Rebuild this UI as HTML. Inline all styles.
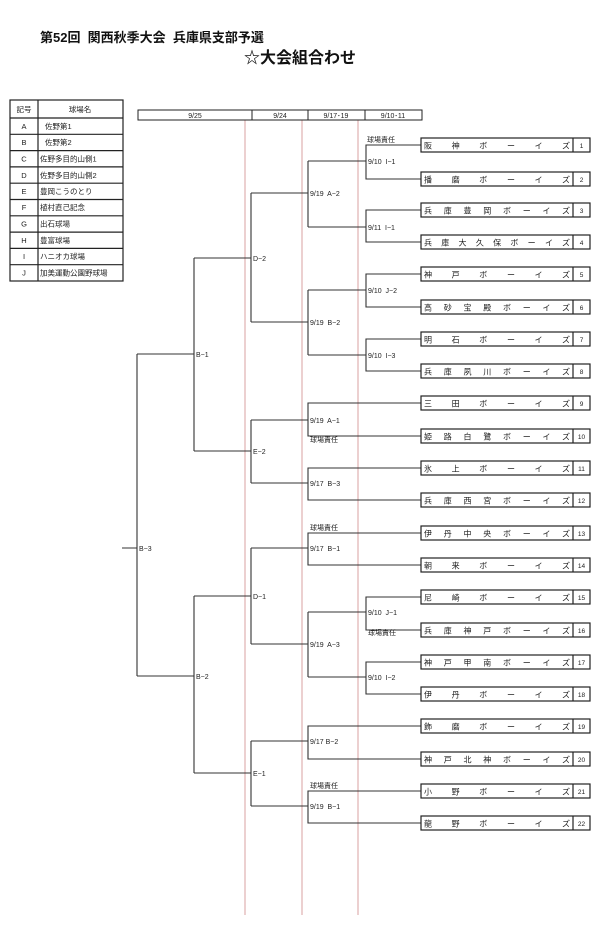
<!DOCTYPE html>
<html><head><meta charset="utf-8"><style>
html,body{margin:0;padding:0;background:#fff;}
svg{display:block;font-family:"Liberation Sans","Noto Sans CJK JP",sans-serif;}
text{white-space:pre;}
</style></head><body>
<svg width="600" height="928" viewBox="0 0 600 928" xmlns="http://www.w3.org/2000/svg" xml:space="preserve">
<rect width="600" height="928" fill="#fff"/>
<text x="40" y="42" font-size="13" font-weight="bold" fill="#111">第52回  関西秋季大会  兵庫県支部予選</text>
<text x="300" y="63" font-size="16" font-weight="bold" fill="#111" text-anchor="middle">☆大会組合わせ</text>

<g stroke="#222" stroke-width="1.2" fill="none">
<rect x="10" y="100" width="113" height="181"/>
<line x1="38" y1="100" x2="38" y2="281"/>
<line x1="10" y1="118" x2="123" y2="118"/>
<line x1="10" y1="134.3" x2="123" y2="134.3"/>
<line x1="10" y1="150.6" x2="123" y2="150.6"/>
<line x1="10" y1="166.9" x2="123" y2="166.9"/>
<line x1="10" y1="183.2" x2="123" y2="183.2"/>
<line x1="10" y1="199.5" x2="123" y2="199.5"/>
<line x1="10" y1="215.8" x2="123" y2="215.8"/>
<line x1="10" y1="232.1" x2="123" y2="232.1"/>
<line x1="10" y1="248.4" x2="123" y2="248.4"/>
<line x1="10" y1="264.7" x2="123" y2="264.7"/>
</g>
<g font-size="7.5" fill="#222">
<text x="24" y="112" text-anchor="middle">記号</text><text x="80" y="112" text-anchor="middle">球場名</text>
<text x="24" y="129" text-anchor="middle">A</text><text x="45" y="129">佐野第1</text>
<text x="24" y="145" text-anchor="middle">B</text><text x="45" y="145">佐野第2</text>
<text x="24" y="161.5" text-anchor="middle">C</text><text x="40" y="161.5">佐野多目的山側1</text>
<text x="24" y="178" text-anchor="middle">D</text><text x="40" y="178">佐野多目的山側2</text>
<text x="24" y="194" text-anchor="middle">E</text><text x="40" y="194">豊岡こうのとり</text>
<text x="24" y="210" text-anchor="middle">F</text><text x="40" y="210">植村直己記念</text>
<text x="24" y="226.5" text-anchor="middle">G</text><text x="40" y="226.5">出石球場</text>
<text x="24" y="243" text-anchor="middle">H</text><text x="40" y="243">豊富球場</text>
<text x="24" y="259" text-anchor="middle">I</text><text x="40" y="259">ハニオカ球場</text>
<text x="24" y="275.5" text-anchor="middle">J</text><text x="40" y="275.5">加美運動公園野球場</text>
</g>

<g stroke="#d9a0a0" stroke-width="1">
<line x1="245" y1="110" x2="245" y2="915"/>
<line x1="302" y1="110" x2="302" y2="915"/>
<line x1="358" y1="110" x2="358" y2="915"/>
</g>
<g stroke="#222" stroke-width="1" fill="#fff">
<rect x="138" y="110" width="284" height="10"/>
<line x1="252" y1="110" x2="252" y2="120"/>
<line x1="308" y1="110" x2="308" y2="120"/>
<line x1="365" y1="110" x2="365" y2="120"/>
</g>
<g font-size="7" fill="#222" text-anchor="middle">
<text x="195" y="118">9/25</text><text x="280" y="118">9/24</text><text x="336" y="118">9/17･19</text><text x="393" y="118">9/10･11</text>
</g>

<g stroke="#333" stroke-width="1.1" fill="none">
<path d="M421 145H366V179H421 M366 161H308"/>
<path d="M421 210H366V242H421 M366 227H308"/>
<path d="M421 274H366V307H421 M366 290H308"/>
<path d="M421 339H366V371H421 M366 355H308"/>
<path d="M421 597H366V630H421 M366 612H308"/>
<path d="M421 662H366V694H421 M366 677H308"/>
<path d="M308 161V227 M308 193H251"/>
<path d="M308 290V355 M308 322H251"/>
<path d="M421 403H308V436H421 M308 420H251"/>
<path d="M421 468H308V500H421 M308 483H251"/>
<path d="M421 533H308V565H421 M308 548H251"/>
<path d="M308 612V677 M308 644H251"/>
<path d="M421 726H308V759H421 M308 741H251"/>
<path d="M421 791H308V823H421 M308 806H251"/>
<path d="M251 193V322 M251 258H194"/>
<path d="M251 420V483 M251 451H194"/>
<path d="M251 548V644 M251 596H194"/>
<path d="M251 741V806 M251 773H194"/>
<path d="M194 258V451 M194 354H137"/>
<path d="M194 596V773 M194 676H137"/>
<path d="M137 354V676 M137 548H122"/>
</g>

<g font-size="7" fill="#222">
<text x="368" y="164">9/10  I−1</text>
<text x="368" y="230">9/11  I−1</text>
<text x="368" y="293">9/10  J−2</text>
<text x="368" y="358">9/10  I−3</text>
<text x="368" y="615">9/10  J−1</text>
<text x="368" y="680">9/10  I−2</text>
<text x="310" y="196">9/19  A−2</text>
<text x="310" y="325">9/19  B−2</text>
<text x="310" y="423">9/19  A−1</text>
<text x="310" y="486">9/17  B−3</text>
<text x="310" y="551">9/17  B−1</text>
<text x="310" y="647">9/19  A−3</text>
<text x="310" y="744">9/17 B−2</text>
<text x="310" y="809">9/19  B−1</text>
<text x="253" y="261">D−2</text>
<text x="253" y="454">E−2</text>
<text x="253" y="599">D−1</text>
<text x="253" y="776">E−1</text>
<text x="196" y="357">B−1</text>
<text x="196" y="679">B−2</text>
<text x="139" y="551">B−3</text>
<text x="367" y="142">球場責任</text>
<text x="310" y="442">球場責任</text>
<text x="310" y="530">球場責任</text>
<text x="368" y="635">球場責任</text>
<text x="310" y="788">球場責任</text>
</g>

<g stroke="#222" stroke-width="1.2" fill="#fff">
<rect x="421" y="138" width="169" height="14"/><rect x="421" y="172" width="169" height="14"/>
<rect x="421" y="203" width="169" height="14"/><rect x="421" y="235" width="169" height="14"/>
<rect x="421" y="267" width="169" height="14"/><rect x="421" y="300" width="169" height="14"/>
<rect x="421" y="332" width="169" height="14"/><rect x="421" y="364" width="169" height="14"/>
<rect x="421" y="396" width="169" height="14"/><rect x="421" y="429" width="169" height="14"/>
<rect x="421" y="461" width="169" height="14"/><rect x="421" y="493" width="169" height="14"/>
<rect x="421" y="526" width="169" height="14"/><rect x="421" y="558" width="169" height="14"/>
<rect x="421" y="590" width="169" height="14"/><rect x="421" y="623" width="169" height="14"/>
<rect x="421" y="655" width="169" height="14"/><rect x="421" y="687" width="169" height="14"/>
<rect x="421" y="719" width="169" height="14"/><rect x="421" y="752" width="169" height="14"/>
<rect x="421" y="784" width="169" height="14"/><rect x="421" y="816" width="169" height="14"/>
</g>
<g stroke="#222" stroke-width="1.2">
<path d="M573 138v14M573 172v14M573 203v14M573 235v14M573 267v14M573 300v14M573 332v14M573 364v14M573 396v14M573 429v14M573 461v14M573 493v14M573 526v14M573 558v14M573 590v14M573 623v14M573 655v14M573 687v14M573 719v14M573 752v14M573 784v14M573 816v14"/>
</g>
<g font-size="8" fill="#222">
<text x="424" y="148.5" textLength="146" lengthAdjust="spacing">阪神ボーイズ</text>
<text x="424" y="182.5" textLength="146" lengthAdjust="spacing">播磨ボーイズ</text>
<text x="424" y="213.5" textLength="146" lengthAdjust="spacing">兵庫豊岡ボーイズ</text>
<text x="424" y="245.5" textLength="146" lengthAdjust="spacing">兵庫大久保ボーイズ</text>
<text x="424" y="277.5" textLength="146" lengthAdjust="spacing">神戸ボーイズ</text>
<text x="424" y="310.5" textLength="146" lengthAdjust="spacing">高砂宝殿ボーイズ</text>
<text x="424" y="342.5" textLength="146" lengthAdjust="spacing">明石ボーイズ</text>
<text x="424" y="374.5" textLength="146" lengthAdjust="spacing">兵庫夙川ボーイズ</text>
<text x="424" y="406.5" textLength="146" lengthAdjust="spacing">三田ボーイズ</text>
<text x="424" y="439.5" textLength="146" lengthAdjust="spacing">姫路白鷺ボーイズ</text>
<text x="424" y="471.5" textLength="146" lengthAdjust="spacing">氷上ボーイズ</text>
<text x="424" y="503.5" textLength="146" lengthAdjust="spacing">兵庫西宮ボーイズ</text>
<text x="424" y="536.5" textLength="146" lengthAdjust="spacing">伊丹中央ボーイズ</text>
<text x="424" y="568.5" textLength="146" lengthAdjust="spacing">朝来ボーイズ</text>
<text x="424" y="600.5" textLength="146" lengthAdjust="spacing">尼崎ボーイズ</text>
<text x="424" y="633.5" textLength="146" lengthAdjust="spacing">兵庫神戸ボーイズ</text>
<text x="424" y="665.5" textLength="146" lengthAdjust="spacing">神戸甲南ボーイズ</text>
<text x="424" y="697.5" textLength="146" lengthAdjust="spacing">伊丹ボーイズ</text>
<text x="424" y="729.5" textLength="146" lengthAdjust="spacing">飾磨ボーイズ</text>
<text x="424" y="762.5" textLength="146" lengthAdjust="spacing">神戸北神ボーイズ</text>
<text x="424" y="794.5" textLength="146" lengthAdjust="spacing">小野ボーイズ</text>
<text x="424" y="826.5" textLength="146" lengthAdjust="spacing">龍野ボーイズ</text>
</g>
<g font-size="6.5" fill="#222" text-anchor="middle">
<text x="581.5" y="148">1</text><text x="581.5" y="182">2</text><text x="581.5" y="213">3</text><text x="581.5" y="245">4</text>
<text x="581.5" y="277">5</text><text x="581.5" y="310">6</text><text x="581.5" y="342">7</text><text x="581.5" y="374">8</text>
<text x="581.5" y="406">9</text><text x="581.5" y="439">10</text><text x="581.5" y="471">11</text><text x="581.5" y="503">12</text>
<text x="581.5" y="536">13</text><text x="581.5" y="568">14</text><text x="581.5" y="600">15</text><text x="581.5" y="633">16</text>
<text x="581.5" y="665">17</text><text x="581.5" y="697">18</text><text x="581.5" y="729">19</text><text x="581.5" y="762">20</text>
<text x="581.5" y="794">21</text><text x="581.5" y="826">22</text>
</g>
</svg>
</body></html>
